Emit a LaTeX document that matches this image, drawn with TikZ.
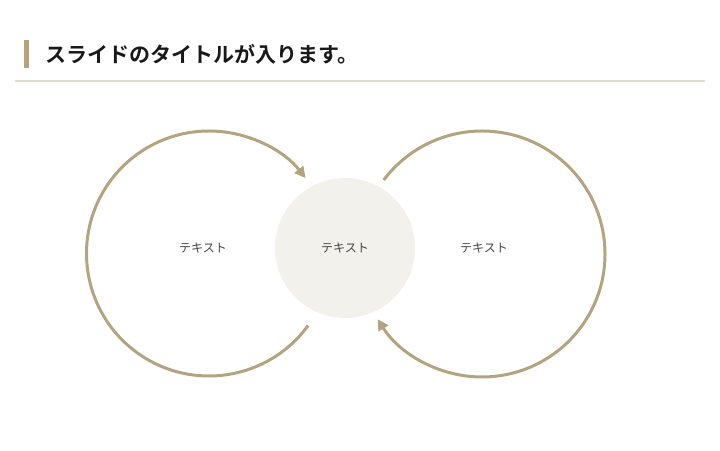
\documentclass[tikz,border=0pt]{standalone}
\usepackage{fontspec}
\usepackage{tikz}
\usetikzlibrary{arrows.meta,positioning}
\newfontfamily\jpfont[BoldFont={Noto Sans CJK JP Bold}]{Noto Sans CJK JP}
\definecolor{tan}{HTML}{B3A47F}
\definecolor{rulebeige}{HTML}{E3DACB}
\definecolor{hubfill}{HTML}{F3F1EC}
\definecolor{labelgray}{HTML}{444444}
\tikzset{
	ring/.style = {circle, inner sep=0pt, outer sep=0pt},
	cyclearrow/.style = {draw=tan, line width=3pt, -{Triangle[length=11pt,width=11pt]}},
	ringlabel/.style = {font=\jpfont\fontsize{12}{14}\selectfont, text=labelgray}
}
\begin{document}
\begin{tikzpicture}[x=1pt,y=1pt]
		\useasboundingbox (0,0) rectangle (720,450);
		% title
		\fill [tan] (24,382) rectangle (29,410);
		\node (title) at (45,396) [anchor = west, inner sep=0pt, font=\jpfont\bfseries\fontsize{21}{25}\selectfont, text=black!90] {スライドのタイトルが入ります。};
		\path [draw=rulebeige, line width=1.5pt] (15,369) -- (705,369);
		% circles
		\node (lft) at (209,196.5) [ring, minimum size = 245pt] {};
		\node (hub) at (345,202) [ring, fill=hubfill, minimum size = 140pt] {};
		\node (rgt) at (482,196) [ring, minimum size = 246pt] {};
		\node (lfttxt) at (203,202) [ringlabel] {テキスト};
		\node (hubtxt) at (hub.center) [ringlabel] {テキスト};
		\node (rgttxt) at (484,202) [ringlabel] {テキスト};
		% arrows
		\path [cyclearrow] (lft.-36) arc [start angle=-36, end angle=-322, radius=122.5pt];
		\path [cyclearrow] (rgt.143) arc [start angle=143, end angle=-148, radius=123pt];
	\end{tikzpicture}
\end{document}
